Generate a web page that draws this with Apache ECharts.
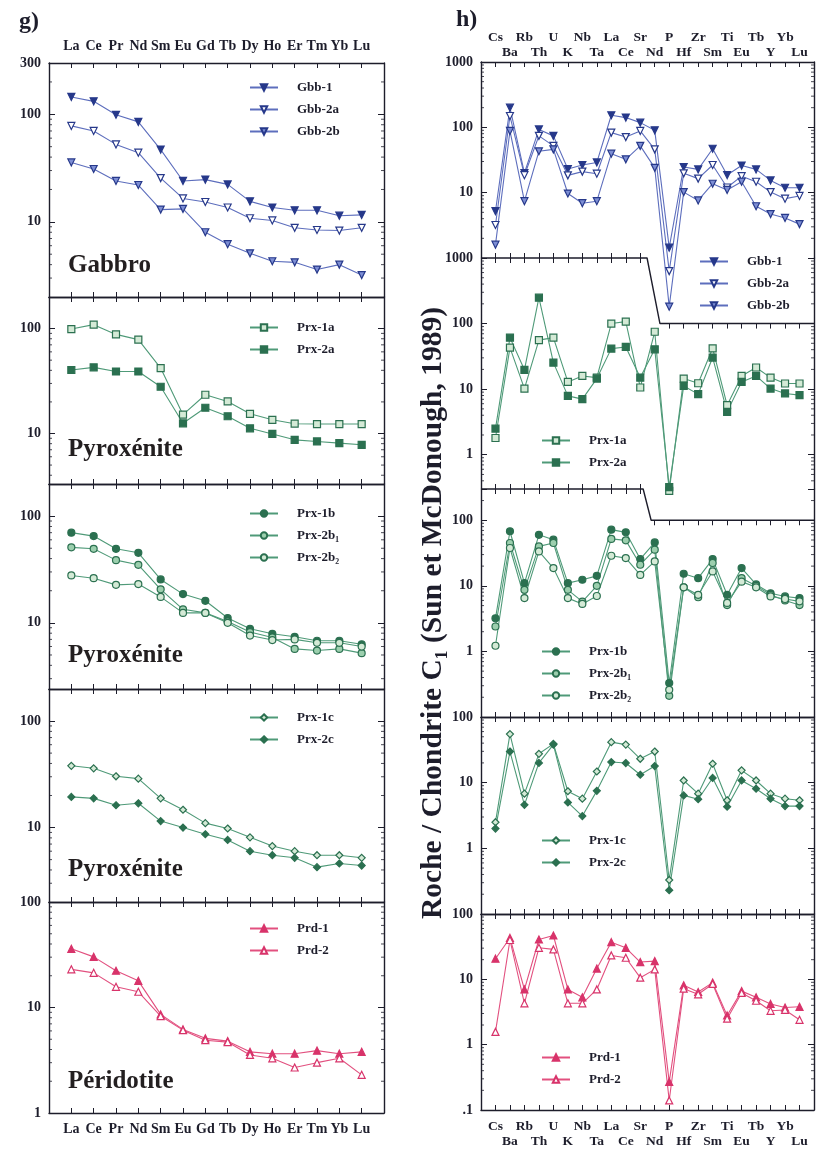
<!DOCTYPE html>
<html>
<head>
<meta charset="utf-8">
<script src="https://cdn.jsdelivr.net/npm/echarts@6/dist/echarts.min.js"></script>
<style>
  html, body { margin: 0; padding: 0; background: #fff; }
  #main { width: 819px; height: 1149px; }
</style>
</head>
<body>
<div id="main"></div>
<script>
// categories
var reeCats = ['La', 'Ce', 'Pr', 'Nd', 'Sm', 'Eu', 'Gd', 'Tb', 'Dy', 'Ho', 'Er', 'Tm', 'Yb', 'Lu']
var spiderCats = ['Cs', 'Ba', 'Rb', 'Th', 'U', 'K', 'Nb', 'Ta', 'La', 'Ce', 'Sr', 'Nd', 'P',
  'Hf', 'Zr', 'Sm', 'Ti', 'Eu', 'Tb', 'Y', 'Yb', 'Lu']

// g) terres rares normalisees
var gbb1Ree = [145, 132, 99, 85, 47, 24, 24.7, 22.3, 15.5, 13.6, 12.8, 12.8, 11.4, 11.6]
var gbb2aRee = [78, 70, 52.5, 44, 25.5, 16.5, 15.3, 13.6, 10.8, 10.3, 8.8, 8.4, 8.3, 8.8]
var gbb2bRee = [35.7, 31, 24, 22, 13, 13.2, 8.0, 6.2, 5.1, 4.3, 4.2, 3.6, 4.0, 3.2]
var prx1aRee = [99, 109, 88, 78.5, 42, 15.1, 23.4, 20.2, 15.4, 13.5, 12.4, 12.3, 12.3, 12.3]
var prx2aRee = [40.3, 42.7, 39, 39, 27.9, 12.5, 17.6, 14.6, 11.2, 9.9, 8.7, 8.4, 8.1, 7.8]
var prx1bRee = [70, 65, 49.4, 45.3, 25.5, 18.6, 16.1, 11.1, 8.8, 7.9, 7.4, 6.8, 6.8, 6.3]
var prx2b1Ree = [51, 49.4, 38.7, 35, 20.6, 13.4, 12.4, 10.3, 8.2, 7.3, 5.7, 5.5, 5.7, 5.2]
var prx2b2Ree = [27.8, 26.2, 22.7, 23.1, 17.5, 12.4, 12.4, 10, 7.6, 6.9, 7.0, 6.5, 6.5, 6.0]
var prx1cRee = [38, 36, 30.3, 28.8, 18.8, 14.7, 11, 9.8, 8.1, 6.7, 6.0, 5.5, 5.5, 5.2]
var prx2cRee = [19.4, 18.8, 16.2, 16.9, 11.5, 10, 8.65, 7.65, 6.0, 5.5, 5.2, 4.25, 4.6, 4.4]
var prd1Ree = [36, 30.2, 22.3, 17.9, 8.6, 6.2, 5.1, 4.8, 3.8, 3.65, 3.65, 3.9, 3.65, 3.8]
var prd2Ree = [23, 21.3, 15.7, 14.1, 8.3, 6.1, 4.9, 4.7, 3.55, 3.3, 2.7, 3.0, 3.3, 2.3]

// h) spectres multi-elements
var gbb1Spider = [5.2, 200, 20, 93, 74, 23, 26.5, 29, 153, 141, 118, 90, 1.44, 24.7, 22.7, 47, 18.6, 26, 22.7, 15.4, 11.9, 11.9]
var gbb2aSpider = [3.2, 149, 18.5, 74, 52, 18.4, 21, 19.5, 83, 71, 88, 46, 0.63, 19.8, 16.4, 26.5, 12, 17.9, 14.7, 10.2, 8.1, 8.9]
var gbb2bSpider = [1.6, 88, 7.4, 43, 46, 9.7, 6.9, 7.4, 39.5, 32.4, 52, 24, 0.18, 10.2, 7.6, 13.7, 11, 14.7, 6.2, 4.7, 4.1, 3.3]
var prx1aSpider = [1.8, 43, 10.2, 56, 61, 12.9, 15.9, 15, 100, 107, 10.6, 75, 0.28, 14.5, 12.3, 42, 5.7, 15.9, 21.4, 15, 12.2, 12.2]
var prx2aSpider = [2.5, 61, 19.7, 248, 25.4, 7.9, 7.05, 14.5, 41.5, 44, 15, 40.5, 0.32, 11.2, 8.4, 30.3, 4.5, 12.9, 15.9, 10.2, 8.6, 8.1]
var prx1bSpider = [3.2, 68, 11, 60, 50.6, 11, 12.4, 14.2, 72, 65.5, 25.6, 46, 0.33, 15.3, 13.1, 25.6, 7.3, 18.7, 10.5, 7.7, 6.9, 6.5]
var prx2b1Spider = [2.4, 45, 8.7, 40, 45, 8.7, 5.75, 10, 52, 49.4, 21, 35.6, 0.21, 9.5, 6.7, 22.3, 5.1, 13.1, 10, 7.3, 6.0, 5.1]
var prx2b2Spider = [1.22, 37.8, 6.5, 33.5, 18.7, 6.5, 5.3, 7, 28.8, 26.5, 14.7, 23.6, 0.26, 9.5, 7.3, 16.6, 5.5, 11.6, 9.5, 6.9, 6.3, 5.8]
var prx1cSpider = [2.5, 55, 6.8, 27.5, 39, 7.4, 5.7, 14.8, 41.4, 38, 23.1, 29.8, 0.33, 10.8, 6.8, 19.4, 5.4, 15.4, 10.8, 6.8, 5.7, 5.4]
var prx2cSpider = [2.0, 29.8, 4.6, 20, 38, 5.0, 3.1, 7.5, 20.6, 19.9, 13.2, 17.9, 0.23, 6.4, 5.6, 11.8, 4.3, 10.8, 8.1, 5.7, 4.4, 4.4]
var prd1Spider = [20.7, 43, 7.0, 40.7, 46.9, 7.0, 5.3, 14.6, 37, 30.4, 18.4, 19, 0.27, 8.1, 6.4, 8.9, 2.8, 6.6, 5.3, 4.2, 3.7, 3.8]
var prd2Spider = [1.57, 40, 4.3, 30.4, 28.7, 4.3, 4.3, 7.0, 23.2, 21.4, 10.6, 14.2, 0.14, 7.2, 5.9, 8.5, 2.5, 6.2, 4.7, 3.3, 3.4, 2.4]

var FONT = 'Liberation Serif'
var INK = '#1d1d2b'

// styles des echantillons
var styles = {
  'Gbb-1': { symbol: 'triangle', rotate: 180, line: '#5d6ebd', fill: '#26388a', border: '#26388a' },
  'Gbb-2a': { symbol: 'triangle', rotate: 180, line: '#5d6ebd', fill: '#ffffff', border: '#26388a' },
  'Gbb-2b': { symbol: 'triangle', rotate: 180, line: '#5d6ebd', fill: '#7d8ed4', border: '#26388a' },
  'Prx-1a': { symbol: 'rect', line: '#4f9a78', fill: '#d4ead6', border: '#2b7050' },
  'Prx-2a': { symbol: 'rect', line: '#4f9a78', fill: '#2b7050', border: '#2b7050' },
  'Prx-1b': { symbol: 'circle', line: '#4f9a78', fill: '#2b7050', border: '#2b7050' },
  'Prx-2b₁': { symbol: 'circle', line: '#4f9a78', fill: '#9ccfae', border: '#2b7050' },
  'Prx-2b₂': { symbol: 'circle', line: '#4f9a78', fill: '#d4ead6', border: '#2b7050' },
  'Prx-1c': { symbol: 'diamond', line: '#4f9a78', fill: '#d4ead6', border: '#2b7050' },
  'Prx-2c': { symbol: 'diamond', line: '#4f9a78', fill: '#2b7050', border: '#2b7050' },
  'Prd-1': { symbol: 'triangle', line: '#e2507f', fill: '#d8336a', border: '#d8336a' },
  'Prd-2': { symbol: 'triangle', line: '#e2507f', fill: '#ffffff', border: '#d8336a' }
}

// panneaux : g) a gauche, h) a droite
var panels = [
  { col: 'g', top: 63, height: 234, min: 2, max: 300, labels: [300, 100, 10], topLabels: true,
    series: [['Gbb-1', gbb1Ree], ['Gbb-2a', gbb2aRee], ['Gbb-2b', gbb2bRee]],
    legend: { left: 244, top: 76 }, rock: 'Gabbro', rockY: 268 },
  { col: 'g', top: 297, height: 187, min: 3.3, max: 200, labels: [100, 10],
    series: [['Prx-1a', prx1aRee], ['Prx-2a', prx2aRee]],
    legend: { left: 244, top: 316 }, rock: 'Pyroxénite', rockY: 452 },
  { col: 'g', top: 484, height: 205, min: 2.4, max: 200, labels: [100, 10],
    series: [['Prx-1b', prx1bRee], ['Prx-2b₁', prx2b1Ree], ['Prx-2b₂', prx2b2Ree]],
    legend: { left: 244, top: 502 }, rock: 'Pyroxénite', rockY: 658 },
  { col: 'g', top: 689, height: 213, min: 2, max: 200, labels: [100, 10],
    series: [['Prx-1c', prx1cRee], ['Prx-2c', prx2cRee]],
    legend: { left: 244, top: 706 }, rock: 'Pyroxénite', rockY: 872 },
  { col: 'g', top: 902, height: 211, min: 1, max: 100, labels: [100, 10, 1], bottomLabels: true,
    series: [['Prd-1', prd1Ree], ['Prd-2', prd2Ree]],
    legend: { left: 244, top: 917 }, rock: 'Péridotite', rockY: 1084 },

  { col: 'h', top: 62, height: 196, min: 1, max: 1000, labels: [1000, 100, 10], topLabels: true,
    hideBottomLine: true, bottomTicks: [1, 11],
    series: [['Gbb-1', gbb1Spider], ['Gbb-2a', gbb2aSpider], ['Gbb-2b', gbb2bSpider]],
    legend: { left: 694, top: 250 } },
  { col: 'h', top: 258, height: 231, min: 0.3, max: 1000, labels: [1000, 100, 10, 1],
    hideBottomLine: true, bottomTicks: [1, 11],
    step: { hi: 1000, lo: 100, x0: 11.47, x1: 12.36, loTicks: [13, 22] },
    series: [['Prx-1a', prx1aSpider], ['Prx-2a', prx2aSpider]],
    legend: { left: 536, top: 429 } },
  { col: 'h', top: 489, height: 228, min: 0.1, max: 300, labels: [100, 10, 1],
    step: { hi: 300, lo: 100, x0: 11.2, x1: 11.75, loTicks: [12, 22] },
    series: [['Prx-1b', prx1bSpider], ['Prx-2b₁', prx2b1Spider], ['Prx-2b₂', prx2b2Spider]],
    legend: { left: 536, top: 640 } },
  { col: 'h', top: 717, height: 197, min: 0.1, max: 100, labels: [100, 10, 1],
    series: [['Prx-1c', prx1cSpider], ['Prx-2c', prx2cSpider]],
    legend: { left: 536, top: 829 } },
  { col: 'h', top: 914, height: 197, min: 0.1, max: 100, labels: [100, 10, 1, 0.1], bottomLabels: true,
    series: [['Prd-1', prd1Spider], ['Prd-2', prd2Spider]],
    legend: { left: 536, top: 1046 } }
]

var columns = {
  g: { left: 49, width: 335, cats: reeCats, twoRows: false, catFont: 14, topMargin: 9 },
  h: { left: 481, width: 333, cats: spiderCats, twoRows: true, catFont: 13.5, topMargin: 2 }
}

var grid = [], xAxis = [], yAxis = [], series = [], legend = [], graphic = []

function labelFmt(list) {
  return function (v) {
    for (var i = 0; i < list.length; i++) {
      if (Math.abs(v / list[i] - 1) < 1e-6) return list[i] < 1 ? '.1' : String(list[i])
    }
    return ''
  }
}

function catLabelFmt(twoRows) {
  return function (v, idx) {
    if (v === '') return ''
    if (!twoRows) return v
    return (idx - 1) % 2 === 0 ? v + '\n ' : ' \n' + v
  }
}

function tickRange(range) {
  return function (idx, v) {
    if (v === '') return false
    if (!range) return true
    return idx >= range[0] && idx <= range[1]
  }
}

// petites graduations logarithmiques (2..9 par decade)
function minorValues(min, max) {
  var out = []
  for (var e = Math.floor(Math.log10(min)); e <= Math.ceil(Math.log10(max)); e++) {
    for (var k = 2; k <= 9; k++) {
      var v = k * Math.pow(10, e)
      if (v > min * 1.0001 && v < max * 0.9999) out.push(v)
    }
  }
  return out
}

var axisLineStyle = { color: INK, width: 1.4 }

panels.forEach(function (p) {
  var c = columns[p.col]
  var gi = grid.length
  var cats = [''].concat(c.cats).concat([''])
  var catStyle = { fontFamily: FONT, fontWeight: 'bold', fontSize: c.catFont, color: INK }
  grid.push({ left: c.left, top: p.top, width: c.width, height: p.height, show: false })

  var xb = xAxis.length
  xAxis.push({
    gridIndex: gi, type: 'category', data: cats, boundaryGap: false, position: 'bottom',
    axisLine: { show: !p.hideBottomLine, lineStyle: axisLineStyle },
    axisTick: { show: true, inside: true, length: 5, interval: tickRange(p.bottomTicks), lineStyle: { color: INK } },
    axisLabel: Object.assign({ show: !!p.bottomLabels, interval: 0, margin: 9, lineHeight: 15,
      formatter: catLabelFmt(c.twoRows) }, catStyle),
    splitLine: { show: false }
  })
  xAxis.push({
    gridIndex: gi, type: 'category', data: cats, boundaryGap: false, position: 'top',
    axisLine: { show: !p.step, lineStyle: axisLineStyle },
    axisTick: { show: true, inside: true, length: 5,
      interval: tickRange(p.step ? [1, 11] : null), lineStyle: { color: INK } },
    axisLabel: Object.assign({ show: !!p.topLabels, interval: 0, margin: c.topMargin, lineHeight: 15,
      formatter: catLabelFmt(c.twoRows) }, catStyle),
    splitLine: { show: false }
  })
  var xs = xAxis.length
  xAxis.push({ gridIndex: gi, type: 'value', min: 0, max: cats.length - 1, show: false })

  var yl = yAxis.length
  var yBase = {
    gridIndex: gi, type: 'log', logBase: 10, min: p.min, max: p.max,
    axisLine: { show: true, lineStyle: axisLineStyle },
    axisTick: { show: true, inside: true, length: 6, lineStyle: { color: INK } },
    minorTick: { show: false },
    splitLine: { show: false }
  }
  yAxis.push(Object.assign({}, yBase, {
    position: 'left',
    axisLabel: { show: true, margin: 8, fontFamily: FONT, fontWeight: 'bold', fontSize: 14, color: INK,
      formatter: labelFmt(p.labels) }
  }))
  yAxis.push(Object.assign({}, yBase, { position: 'right', axisLabel: { show: false } }))

  // petites graduations sur les deux bords
  var minors = minorValues(p.min, p.max)
  series.push({
    type: 'scatter', xAxisIndex: xs, yAxisIndex: yl, silent: true, clip: false,
    symbol: 'rect', symbolSize: [3, 1], symbolOffset: [1.5, 0],
    itemStyle: { color: INK }, z: 2,
    data: minors.map(function (v) { return [0, v] })
  })
  series.push({
    type: 'scatter', xAxisIndex: xs, yAxisIndex: yl, silent: true, clip: false,
    symbol: 'rect', symbolSize: [3, 1], symbolOffset: [-1.5, 0],
    itemStyle: { color: INK }, z: 2,
    data: minors.map(function (v) { return [cats.length - 1, v] })
  })

  if (p.step) {
    var off = p.height * Math.log10(p.step.hi / p.step.lo) / Math.log10(p.max / p.min)
    xAxis.push({
      gridIndex: gi, type: 'category', data: cats, boundaryGap: false, position: 'top', offset: -off,
      axisLine: { show: false },
      axisTick: { show: true, inside: true, length: 5, interval: tickRange(p.step.loTicks), lineStyle: { color: INK } },
      axisLabel: { show: false }, splitLine: { show: false }
    })
    series.push({
      type: 'line', xAxisIndex: xs, yAxisIndex: yl, symbol: 'none', silent: true, clip: false,
      lineStyle: { color: INK, width: 1.4 }, z: 1,
      data: [[0, p.step.hi], [p.step.x0, p.step.hi], [p.step.x1, p.step.lo], [cats.length - 1, p.step.lo]]
    })
  }

  p.series.forEach(function (s) {
    var st = styles[s[0]]
    series.push({
      name: s[0], type: 'line', xAxisIndex: xb, yAxisIndex: yl, clip: false,
      symbol: st.symbol, symbolRotate: st.rotate || 0, symbolSize: 7, showAllSymbol: true,
      lineStyle: { color: st.line, width: 1.1 },
      itemStyle: { color: st.fill, borderColor: st.border, borderWidth: 1.2 },
      data: s[1].map(function (v, i) { return [i + 1, v] }),
      z: 3
    })
  })

  legend.push({
    orient: 'vertical', left: p.legend.left, top: p.legend.top, itemGap: 9,
    itemWidth: 28, itemHeight: 8, selectedMode: false,
    data: p.series.map(function (s) { return s[0] }),
    textStyle: { fontFamily: FONT, fontWeight: 'bold', fontSize: 13, color: INK, padding: [0, 0, 0, 14] }
  })

  if (p.rock) {
    graphic.push({
      type: 'text', left: 68, top: p.rockY - 15,
      style: { text: p.rock, fontFamily: FONT, fontWeight: 'bold', fontSize: 25, fill: '#231f20' }
    })
  }
})

graphic.push({ type: 'text', left: 19, top: 10,
  style: { text: 'g)', fontFamily: FONT, fontWeight: 'bold', fontSize: 24, fill: INK } })
graphic.push({ type: 'text', left: 456, top: 8,
  style: { text: 'h)', fontFamily: FONT, fontWeight: 'bold', fontSize: 24, fill: INK } })
graphic.push({
  type: 'text', x: 433, y: 613, rotation: Math.PI / 2,
  style: {
    text: 'Roche / Chondrite C₁ (Sun et McDonough, 1989)',
    fontFamily: FONT, fontWeight: 'bold', fontSize: 29.5, fill: INK,
    align: 'center', verticalAlign: 'middle'
  }
})

var myChart = echarts.init(document.getElementById('main'))
myChart.setOption({
  animation: false,
  backgroundColor: '#ffffff',
  grid: grid,
  xAxis: xAxis,
  yAxis: yAxis,
  legend: legend,
  graphic: graphic,
  series: series
})
</script>
</body>
</html>
